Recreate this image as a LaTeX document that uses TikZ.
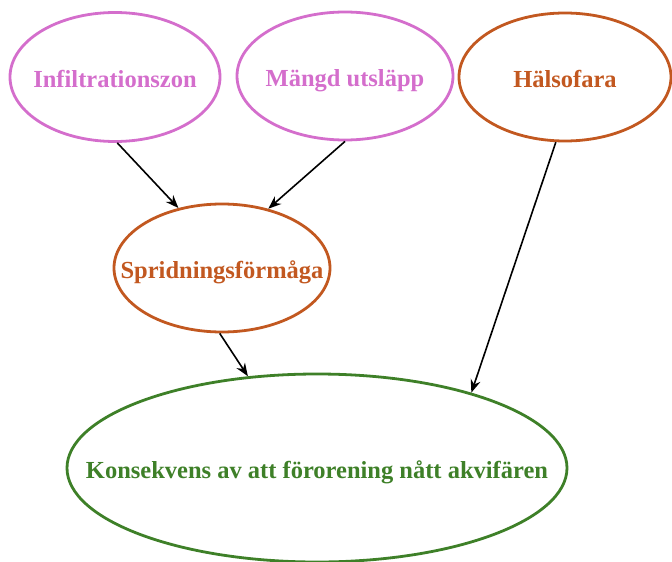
\documentclass[tikz,border=0pt]{standalone}
\usepackage{fontspec}
\setmainfont{Liberation Serif}
\usetikzlibrary{shapes.geometric,arrows.meta}

\definecolor{pinkc}{RGB}{212,110,204}
\definecolor{orangec}{RGB}{194,88,32}
\definecolor{greenc}{RGB}{62,128,40}

% Text is boxed at zero size so that the ellipse keeps its given size;
% the baseline sits a little below the centre of the ellipse
\newcommand{\flatlabel}[1]{\makebox[0pt]{\raisebox{-10.5pt}[0pt][0pt]{#1}}}

\tikzset{
  factor/.style={ellipse, draw, line width=2.8pt, inner sep=0pt,
    font=\fontsize{24.5}{28}\selectfont\bfseries},
  pinkbox/.style={factor, draw=pinkc, text=pinkc},
  orangebox/.style={factor, draw=orangec, text=orangec},
  greenbox/.style={factor, draw=greenc, text=greenc},
  link/.style={draw=black, line width=1.6pt, -{Stealth[length=13pt,width=10pt]}}
}

\begin{document}
\begin{tikzpicture}[x=1pt,y=-1pt]
  \useasboundingbox (0,0) rectangle (672,562);

  \node[pinkbox, minimum width=210pt, minimum height=129pt] (inf) at (115,77) {\flatlabel{Infiltrationszon}};
  \node[pinkbox, minimum width=216pt, minimum height=128pt] (mue) at (345,76) {\flatlabel{Mängd utsläpp}};
  \node[orangebox, minimum width=212pt, minimum height=128pt] (hal) at (565,77) {\flatlabel{Hälsofara}};
  \node[orangebox, minimum width=216pt, minimum height=128pt] (spr) at (222,268) {\flatlabel{Spridningsförmåga}};
  \node[greenbox, minimum width=500pt, minimum height=188pt] (kon) at (317,468) {\flatlabel{Konsekvens av att förorening nått akvifären}};

  \draw[link] (inf.-88) -- (spr.126);
  \draw[link] (mue.-90) -- (spr.52);
  \draw[link] (spr.-92) -- (kon.127);
  \draw[link] (hal.-98) -- (kon.26);
\end{tikzpicture}
\end{document}
